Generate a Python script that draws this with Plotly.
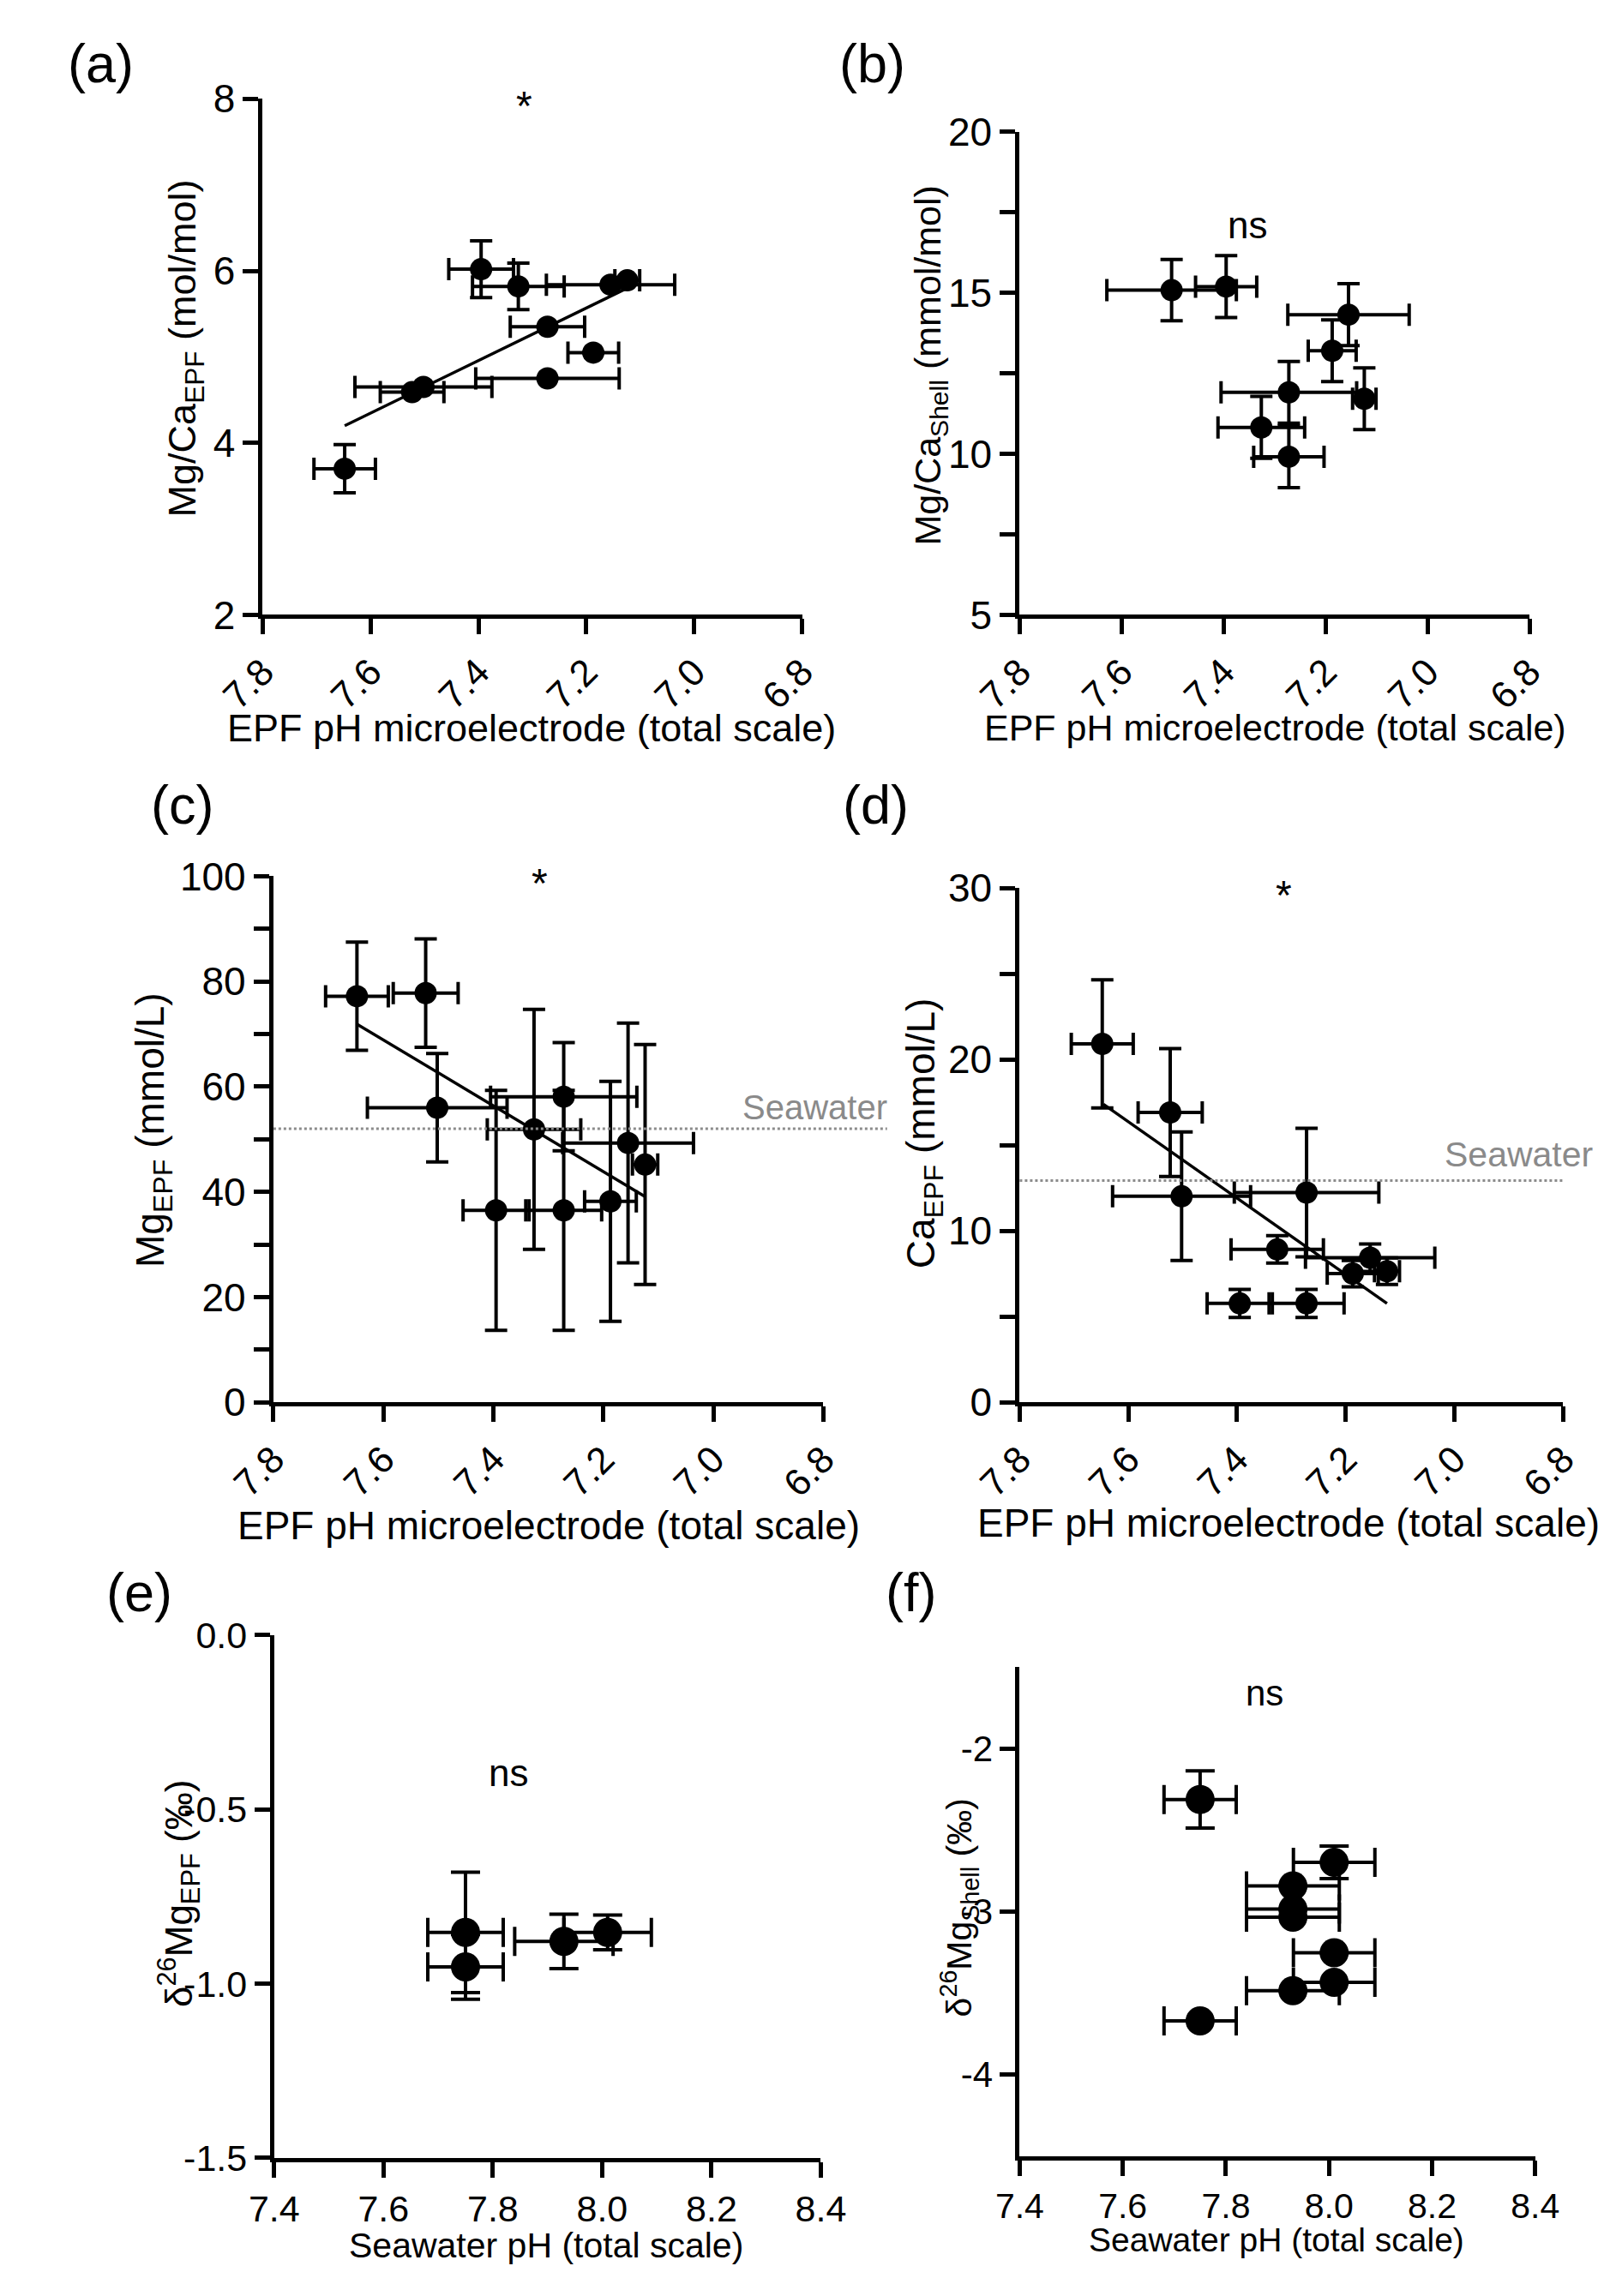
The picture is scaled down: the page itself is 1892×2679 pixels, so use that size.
import plotly.graph_objects as go
from plotly.subplots import make_subplots

W, H = 1892, 2679
FONT = "Liberation Sans, Arial, Helvetica, sans-serif"

# EPF pH (microelectrode), shared by panels a, c, d
ph_epf = [7.648, 7.523, 7.502, 7.395, 7.326, 7.272, 7.272, 7.187, 7.155, 7.124]
ph_epf_err = [0.057, 0.059, 0.127, 0.060, 0.085, 0.133, 0.069, 0.047, 0.119, 0.023]

# (a) Mg/Ca EPF
mgca_epf = [3.70, 4.59, 4.65, 6.02, 5.82, 4.75, 5.35, 5.05, 5.84, 5.89]
mgca_epf_err = [0.28, 0, 0, 0.33, 0.27, 0, 0, 0, 0, 0]
mgca_epf_fit_x = [7.648, 7.124]
mgca_epf_fit_y = [4.20, 5.80]

# (b) Mg/Ca shell
ph_b = [7.502, 7.395, 7.155, 7.187, 7.272, 7.124, 7.326, 7.272]
ph_b_err = [0.127, 0.060, 0.119, 0.047, 0.133, 0.023, 0.085, 0.069]
mgca_shell = [15.08, 15.19, 14.32, 13.20, 11.91, 11.71, 10.82, 9.91]
mgca_shell_err = [0.95, 0.96, 0.96, 0.96, 0.96, 0.96, 0.96, 0.96]

# (c) Mg EPF
mg_epf = [77.2, 77.8, 56.0, 36.5, 51.9, 58.1, 36.5, 38.2, 49.3, 45.2]
mg_epf_err = [10.3, 10.3, 10.3, 22.8, 22.8, 10.3, 22.8, 22.8, 22.8, 22.8]
mg_epf_fit_x = [7.648, 7.124]
mg_epf_fit_y = [71.9, 39.1]
mg_seawater = 52.0

# (d) Ca EPF
ca_epf = [20.91, 16.91, 12.02, 5.77, 8.92, 12.24, 5.77, 7.51, 8.44, 7.65]
ca_epf_err = [3.74, 3.73, 3.75, 0.82, 0.80, 3.75, 0.82, 0.77, 0.80, 0.77]
ca_epf_fit_x = [7.646, 7.124]
ca_epf_fit_y = [17.39, 5.77]
ca_seawater = 12.94

# (e) d26Mg EPF vs seawater pH
ph_sw_e = [7.75, 7.75, 7.93, 8.01]
ph_sw_e_err = [0.069, 0.069, 0.09, 0.08]
d26mg_epf = [-0.853, -0.952, -0.879, -0.853]
d26mg_epf_err = [0.173, 0.093, 0.078, 0.05]

# (f) d26Mg shell vs seawater pH
ph_sw_f = [7.75, 8.01, 7.93, 7.93, 7.93, 8.01, 8.01, 7.93, 7.75]
ph_sw_f_err = [0.07, 0.079, 0.09, 0.09, 0.09, 0.079, 0.079, 0.09, 0.07]
d26mg_shell = [-2.312, -2.698, -2.842, -2.984, -3.034, -3.252, -3.434, -3.485, -3.670]
d26mg_shell_err = [0.176, 0.10, 0, 0, 0, 0, 0, 0, 0]

# tick labels
ph_epf_ticks = [7.8, 7.6, 7.4, 7.2, 7.0, 6.8]
ph_epf_ticktext = ["7.8", "7.6", "7.4", "7.2", "7.0", "6.8"]
ph_sw_ticks = [7.4, 7.6, 7.8, 8.0, 8.2, 8.4]
ph_sw_ticktext = ["7.4", "7.6", "7.8", "8.0", "8.2", "8.4"]
e_yticks = [-1.5, -1.0, -0.5, 0.0]
e_yticktext = ["-1.5", "-1.0", "-0.5", "0.0"]
f_yticks = [-4, -3, -2]
f_yticktext = ["-4", "-3", "-2"]

fig = make_subplots(rows=3, cols=2)

# panel boxes in pixels: left, right, top, bottom
boxes = {
    (1, 1): (254, 913, 83, 697),
    (1, 2): (1179, 1802, 122, 697),
    (2, 1): (267, 939, 1008, 1634),
    (2, 2): (1179, 1843, 1022, 1634),
    (3, 1): (268, 936, 1911, 2533),
    (3, 2): (1179, 1809, 1949, 2531),
}


def add_points(row, col, x, y, xerr, yerr, size, cap):
    fig.add_trace(go.Scatter(
        x=x, y=y, mode='markers',
        marker=dict(color='black', size=size, line=dict(width=0)),
        error_x=dict(type='data', array=xerr, color='black', thickness=4, width=cap),
        error_y=dict(type='data', array=yerr, color='black', thickness=4, width=cap),
        showlegend=False), row=row, col=col)


def add_fit(row, col, x, y):
    fig.add_trace(go.Scatter(x=x, y=y, mode='lines', line=dict(color='black', width=3.5),
                             showlegend=False), row=row, col=col)


add_points(1, 1, ph_epf, mgca_epf, ph_epf_err, mgca_epf_err, 26, 13)
add_fit(1, 1, mgca_epf_fit_x, mgca_epf_fit_y)
add_points(1, 2, ph_b, mgca_shell, ph_b_err, mgca_shell_err, 26, 13)
add_fit(2, 1, mg_epf_fit_x, mg_epf_fit_y)
add_points(2, 1, ph_epf, mg_epf, ph_epf_err, mg_epf_err, 26, 13)
add_fit(2, 2, ca_epf_fit_x, ca_epf_fit_y)
add_points(2, 2, ph_epf, ca_epf, ph_epf_err, ca_epf_err, 26, 13)
add_points(3, 1, ph_sw_e, d26mg_epf, ph_sw_e_err, d26mg_epf_err, 34, 17)
add_points(3, 2, ph_sw_f, d26mg_shell, ph_sw_f_err, d26mg_shell_err, 34, 17)

axis_style = dict(showline=True, linecolor='black', linewidth=5, ticks='outside', ticklen=18,
                  tickwidth=5, tickcolor='black', showgrid=False, zeroline=False)

for (r, c), (l, rr, t, b) in boxes.items():
    fig.update_xaxes(domain=[l / W, rr / W], row=r, col=c, **axis_style)
    fig.update_yaxes(domain=[1 - b / H, 1 - t / H], row=r, col=c, **axis_style)

minor_style = dict(ticks='outside', ticklen=18, tickwidth=5, tickcolor='black', showgrid=False)

for r, c in [(1, 1), (1, 2), (2, 1), (2, 2)]:
    fig.update_xaxes(range=[7.8, 6.8], tickvals=ph_epf_ticks, ticktext=ph_epf_ticktext,
                     tickangle=-45, tickfont=dict(size=44, color='black', family=FONT), row=r, col=c)
    fig.update_yaxes(tickfont=dict(size=46, color='black', family=FONT), row=r, col=c)

fig.update_yaxes(range=[2, 8], tickvals=[2, 4, 6, 8], row=1, col=1)
fig.update_yaxes(range=[5, 20], tickvals=[5, 10, 15, 20], minor=dict(dtick=2.5, tick0=5, **minor_style),
                 row=1, col=2)
fig.update_yaxes(range=[0, 100], tickvals=[0, 20, 40, 60, 80, 100], minor=dict(dtick=10, tick0=0, **minor_style),
                 row=2, col=1)
fig.update_yaxes(range=[0, 30], tickvals=[0, 10, 20, 30], minor=dict(dtick=5, tick0=0, **minor_style),
                 row=2, col=2)

fig.update_xaxes(range=[7.4, 8.4], tickvals=ph_sw_ticks, ticktext=ph_sw_ticktext, tickangle=0,
                 tickfont=dict(size=43, color='black', family=FONT), row=3, col=1)
fig.update_yaxes(range=[-1.5, 0], tickvals=e_yticks, ticktext=e_yticktext,
                 tickfont=dict(size=43, color='black', family=FONT), row=3, col=1)
fig.update_xaxes(range=[7.4, 8.4], tickvals=ph_sw_ticks, ticktext=ph_sw_ticktext, tickangle=0,
                 tickfont=dict(size=41, color='black', family=FONT), row=3, col=2)
fig.update_yaxes(range=[-4.5, -1.5], tickvals=f_yticks, ticktext=f_yticktext,
                 tickfont=dict(size=42, color='black', family=FONT), row=3, col=2)

# seawater reference lines
fig.add_shape(type='line', xref='x3 domain', yref='y3', x0=0, x1=1.116, y0=mg_seawater, y1=mg_seawater,
              line=dict(color='#8c8c8c', width=3, dash='dot'))
fig.add_shape(type='line', xref='x4 domain', yref='y4', x0=0, x1=1.0, y0=ca_seawater, y1=ca_seawater,
              line=dict(color='#8c8c8c', width=3, dash='dot'))

annotations = []


def note(text, x, y, size, xref='paper', yref='paper', angle=0, color='black', **kw):
    annotations.append(dict(text=text, x=x, y=y, xref=xref, yref=yref, showarrow=False,
                            textangle=angle, xanchor='center', yanchor='middle',
                            font=dict(size=size, color=color, family=FONT), **kw))


def pnote(text, xp, yp, size, angle=0):
    note(text, xp / W, 1 - yp / H, size, angle=angle)


# panel letters
for lab, xp, yp in [("(a)", 56, 41), ("(b)", 999, 41), ("(c)", 156, 923),
                    ("(d)", 1003, 923), ("(e)", 103, 1860), ("(f)", 1046, 1860)]:
    pnote(lab, xp, yp, 63)

# axis titles
pnote("EPF pH microelectrode (total scale)", 582, 832, 45)
pnote("EPF pH microelectrode (total scale)", 1491, 831, 43)
pnote("EPF pH microelectrode (total scale)", 603, 1781, 46)
pnote("EPF pH microelectrode (total scale)", 1507, 1778, 46)
pnote("Seawater pH (total scale)", 600, 2637, 41)
pnote("Seawater pH (total scale)", 1493, 2631, 39)

pnote("Mg/Ca<sub>EPF</sub> (mol/mol)", 159, 380, 45, angle=-90)
pnote("Mg/Ca<sub>Shell</sub> (mmol/mol)", 1070, 400, 43, angle=-90)
pnote("Mg<sub>EPF</sub> (mmol/L)", 120, 1310, 46, angle=-90)
pnote("Ca<sub>EPF</sub> (mmol/L)", 1062, 1314, 46, angle=-90)
pnote("δ<sup>26</sup>Mg<sub>EPF</sub> (‰)", 152, 2219, 44, angle=-90)
pnote("δ<sup>26</sup>Mg<sub>Shell</sub> (‰)", 1105, 2235, 41, angle=-90)

# significance marks
note("*", 7.315, 8.0, 48, xref='x', yref='y', yshift=-8)
note("ns", 7.354, 17.1, 44, xref='x2', yref='y2')
note("*", 7.315, 100, 48, xref='x3', yref='y3', yshift=-8)
note("*", 7.314, 30, 48, xref='x4', yref='y4', yshift=-8)
note("ns", 7.828, -0.394, 44, xref='x5', yref='y5')
note("ns", 7.875, -1.658, 42, xref='x6', yref='y6')

# seawater labels
note("Seawater", 0.985, mg_seawater, 40, xref='x3 domain', yref='y3', color='#8a8a8a', yshift=25)
note("Seawater", 0.918, ca_seawater, 41, xref='x4 domain', yref='y4', color='#8a8a8a', yshift=30)

fig.update_layout(
    width=W, height=H,
    margin=dict(l=0, r=0, t=0, b=0),
    paper_bgcolor='white', plot_bgcolor='white',
    font=dict(family=FONT, color='black'),
    annotations=annotations,
    showlegend=False,
)

fig.write_html("out.html")
